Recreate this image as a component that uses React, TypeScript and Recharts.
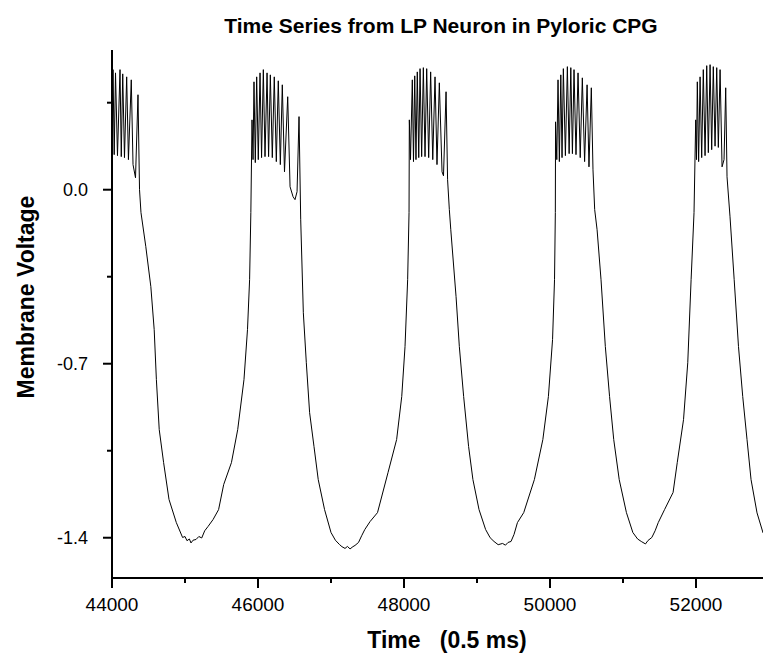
import React from "react";
import { LineChart, Line, XAxis, YAxis } from "recharts";

// LP neuron membrane trace (time in 0.5 ms steps)
const time = [
  44000, 44014, 44030, 44048, 44075, 44110, 44127, 44147, 44171, 44201, 44225, 44264, 44288, 44322, 44356, 44377, 44397,
  44463, 44532, 44578, 44608, 44647, 44707, 44781, 44881, 44967, 45000, 45027, 45060, 45082, 45110, 45151, 45190, 45229,
  45270, 45315, 45384, 45460, 45530, 45636, 45722, 45808, 45856, 45885, 45902, 45918,
  45932, 45945, 45963, 45982, 46004, 46028, 46049, 46073, 46096, 46124, 46145, 46169, 46196, 46223, 46251, 46278, 46306,
  46333, 46363, 46407, 46439, 46480, 46507, 46535, 46562, 46585, 46621, 46662, 46707, 46767, 46825, 46912, 47000, 47060,
  47115, 47150, 47192, 47225, 47261, 47300, 47329, 47377, 47420, 47463, 47535, 47637, 47781, 47899, 47969, 48014, 48050,
  48069, 48073,
  48089, 48114, 48130, 48147, 48164, 48182, 48202, 48220, 48242, 48265, 48288, 48311, 48338, 48365, 48394, 48425, 48452,
  48484, 48521, 48541, 48576, 48597, 48621, 48641, 48713, 48758, 48817, 48885, 48944, 49028, 49118, 49180, 49233, 49290,
  49350, 49390, 49425, 49466, 49507, 49554, 49640, 49786, 49902, 49978, 50035, 50062, 50073, 50076,
  50093, 50110, 50128, 50148, 50165, 50183, 50211, 50238, 50262, 50285, 50307, 50329, 50356, 50384, 50414, 50443, 50474,
  50508, 50534, 50566, 50589, 50612, 50645, 50699, 50758, 50816, 50873, 50948, 51047, 51135, 51200, 51250, 51308, 51343,
  51395, 51440, 51483, 51569, 51686, 51743, 51829, 51887, 51933, 51973, 51996,
  52007, 52018, 52036, 52056, 52078, 52100, 52124, 52147, 52169, 52193, 52215, 52237, 52261, 52284, 52306, 52330, 52357,
  52384, 52407, 52425, 52466, 52523, 52582, 52640, 52699, 52754, 52836, 52918, 53000,
];

const voltage = [
  0.149, 0.483, 0.141, 0.47, 0.137, 0.483, 0.133, 0.466, 0.129, 0.454, 0.121, 0.442, 0.101, 0.048, 0.382, 0.0, -0.092,
  -0.229, -0.39, -0.563, -0.764, -0.965, -1.098, -1.246, -1.339, -1.399, -1.395, -1.412, -1.405, -1.421, -1.41, -1.407, -1.395, -1.401,
  -1.372, -1.355, -1.327, -1.287, -1.186, -1.098, -0.965, -0.764, -0.563, -0.362, -0.092, 0.281,
  0.121, 0.434, 0.109, 0.454, 0.121, 0.47, 0.129, 0.483, 0.133, 0.47, 0.133, 0.462, 0.129, 0.454, 0.113, 0.438, 0.101,
  0.422, 0.072, 0.374, 0.012, -0.028, -0.04, -0.008, 0.294, -0.121, -0.495, -0.696, -0.897, -1.033, -1.166, -1.287, -1.379, -1.41,
  -1.427, -1.436, -1.443, -1.435, -1.445, -1.436, -1.431, -1.419, -1.392, -1.367, -1.335, -1.299, -1.138, -1.005, -0.832, -0.631, -0.362,
  -0.092, 0.281,
  0.121, 0.442, 0.113, 0.458, 0.121, 0.474, 0.129, 0.487, 0.133, 0.491, 0.133, 0.487, 0.129, 0.474, 0.121, 0.454, 0.101,
  0.43, 0.072, 0.056, 0.394, 0.04, -0.08, -0.161, -0.43, -0.631, -0.832, -1.033, -1.166, -1.287, -1.367, -1.4, -1.415, -1.428,
  -1.423, -1.43, -1.419, -1.415, -1.387, -1.339, -1.299, -1.166, -1.005, -0.832, -0.603, -0.362, -0.092, 0.273,
  0.121, 0.442, 0.113, 0.462, 0.129, 0.487, 0.137, 0.495, 0.145, 0.491, 0.145, 0.483, 0.141, 0.47, 0.129, 0.45, 0.113,
  0.422, 0.092, 0.41, 0.08, -0.08, -0.161, -0.362, -0.631, -0.832, -1.005, -1.166, -1.299, -1.379, -1.405, -1.415, -1.425, -1.411,
  -1.399, -1.372, -1.339, -1.287, -1.218, -1.098, -0.925, -0.696, -0.362, -0.092, 0.281,
  0.121, 0.434, 0.113, 0.454, 0.129, 0.483, 0.137, 0.499, 0.149, 0.503, 0.161, 0.495, 0.175, 0.491, 0.17, 0.483, 0.092,
  0.121, 0.41, 0.052, -0.109, -0.362, -0.631, -0.832, -1.005, -1.166, -1.3, -1.38, -1.415,
];

const xTicks = [44000, 45000, 46000, 47000, 48000, 49000, 50000, 51000, 52000, 53000];
const yTicks = [0.35, 0, -0.35, -0.7, -1.05, -1.4];
const yLabels = [0, -0.7, -1.4];

const data = time.map((t, i) => ({ t, v: voltage[i] }));

const font = '"Liberation Sans", Arial, sans-serif';

const XTick = ({ x, y, payload }: any) => {
  const major = payload.value % 2000 === 0;
  return (
    <g>
      <line x1={x} x2={x} y1={y} y2={y + (major ? 10 : 5)} stroke="#000" strokeWidth={2} />
      {major && (
        <text x={x} y={y + 33} textAnchor="middle" fontFamily={font} fontSize={19} fill="#000">
          {payload.value}
        </text>
      )}
    </g>
  );
};

const YTick = ({ x, y, payload }: any) => {
  const major = yLabels.some((m) => Math.abs(m - payload.value) < 1e-6);
  return (
    <g>
      <line x1={x - (major ? 9 : 5)} x2={x} y1={y} y2={y} stroke="#000" strokeWidth={2} />
      {major && (
        <text x={x - 24} y={y} dy="0.35em" textAnchor="end" fontFamily={font} fontSize={18} fill="#000">
          {payload.value.toFixed(1)}
        </text>
      )}
    </g>
  );
};

export default function App() {
  return (
    <div style={{ position: "absolute", left: 0, top: 0, width: 763, height: 660, overflow: "hidden", background: "#fff" }}>
      <LineChart width={790} height={660} data={data} margin={{ top: 50, right: 21, bottom: 52, left: 0 }}>
        <XAxis
          dataKey="t"
          type="number"
          domain={[44000, 53000]}
          ticks={xTicks}
          interval={0}
          allowDataOverflow
          height={30}
          tickSize={0}
          tickMargin={0}
          tickLine={false}
          tick={XTick}
          axisLine={{ stroke: "#000", strokeWidth: 2 }}
        />
        <XAxis
          xAxisId="top"
          orientation="top"
          dataKey="t"
          type="number"
          domain={[44000, 53000]}
          ticks={xTicks}
          interval={0}
          height={0}
          mirror
          tickSize={3}
          tick={false}
          tickLine={{ stroke: "#000", strokeWidth: 1 }}
          axisLine={{ stroke: "#000", strokeWidth: 2 }}
        />
        <YAxis
          type="number"
          domain={[-1.562, 0.562]}
          ticks={yTicks}
          interval={0}
          allowDataOverflow
          width={112}
          tickSize={0}
          tickMargin={0}
          tickLine={false}
          tick={YTick}
          axisLine={{ stroke: "#000", strokeWidth: 2 }}
        />
        <Line
          dataKey="v"
          type="linear"
          stroke="#000"
          strokeWidth={1}
          dot={false}
          activeDot={false}
          isAnimationActive={false}
        />
      </LineChart>
      <svg width={763} height={660} style={{ position: "absolute", left: 0, top: 0, pointerEvents: "none" }}>
        <text x={441} y={33} textAnchor="middle" fontFamily={font} fontWeight="bold" fontSize={21} fill="#000">
          Time Series from LP Neuron in Pyloric CPG
        </text>
        <text
          x={0}
          y={0}
          transform="translate(34 297) rotate(-90)"
          textAnchor="middle"
          fontFamily={font}
          fontWeight="bold"
          fontSize={23}
          fill="#000"
        >
          Membrane Voltage
        </text>
        <text
          x={447}
          y={648}
          textAnchor="middle"
          fontFamily={font}
          fontWeight="bold"
          fontSize={23}
          fill="#000"
          style={{ whiteSpace: "pre" }}
        >
          {"Time   (0.5 ms)"}
        </text>
      </svg>
    </div>
  );
}
